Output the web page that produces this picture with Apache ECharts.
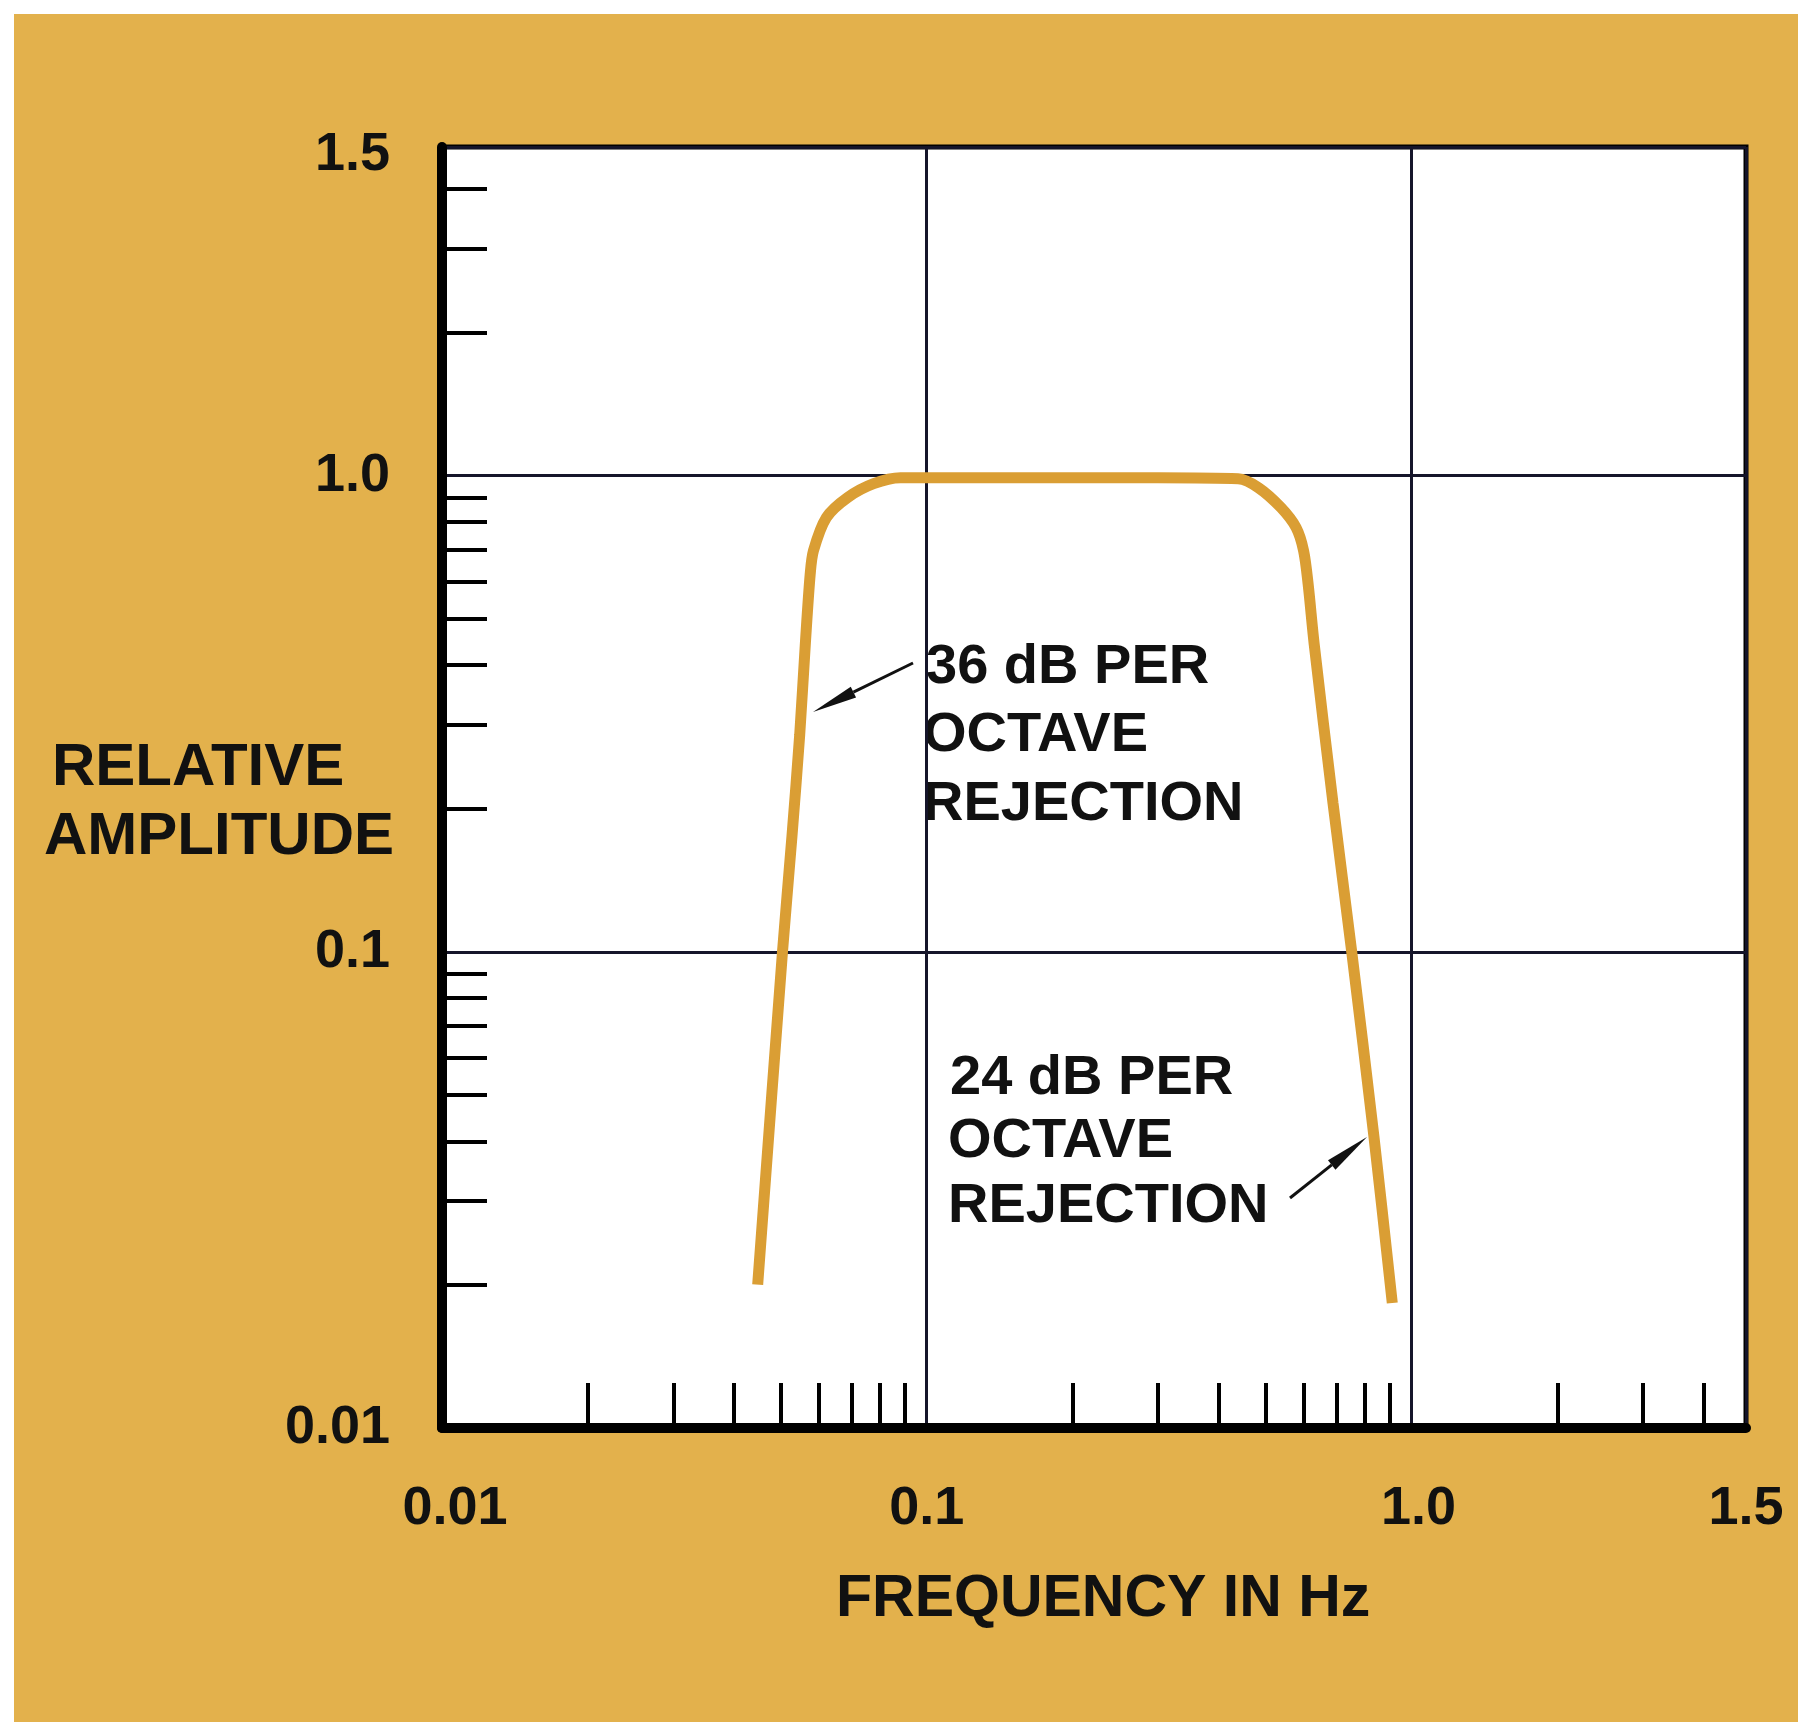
<!DOCTYPE html>
<html>
<head>
    <meta charset="utf-8" />
    <title>Relative amplitude vs frequency</title>
    <script src="https://cdn.jsdelivr.net/npm/echarts@6/dist/echarts.min.js"></script>
    <style>
        html, body { margin: 0; padding: 0; background: #fff; }
        #chart { width: 1798px; height: 1722px; }
    </style>
</head>
<body>
    <div id="chart"></div>

    <script>
        /*
        * filter response: frequency (Hz) / relative amplitude
        * */
        var freq = [0.0448, 0.0504, 0.0527, 0.0547, 0.0562, 0.0575, 0.0584, 0.0621, 0.0687, 0.0777, 0.0883,
                    0.10, 0.2, 0.3, 0.439, 0.483, 0.538, 0.578, 0.599, 0.612, 0.630,
                    0.689, 0.753, 0.837, 0.913];
        var amp = [0.020, 0.100, 0.174, 0.286, 0.446, 0.622, 0.696, 0.817, 0.90, 0.962, 0.99,
                   0.99, 0.99, 0.99, 0.985, 0.944, 0.857, 0.778, 0.696, 0.593, 0.443,
                   0.205, 0.100, 0.0408, 0.0183];

        // minor ticks (2..9 of every decade)
        var xMinorTicks = [0.02, 0.03, 0.04, 0.05, 0.06, 0.07, 0.08, 0.09,
                           0.2, 0.3, 0.4, 0.5, 0.6, 0.7, 0.8, 0.9, 2, 3, 4];
        var yMinorTicks = [0.02, 0.03, 0.04, 0.05, 0.06, 0.07, 0.08, 0.09,
                           0.2, 0.3, 0.4, 0.5, 0.6, 0.7, 0.8, 0.9, 2, 3, 4];

        // labelled ticks; the end of each axis is printed as "1.5" in the original
        var xLabelValues = [0.01, 0.1, 1, 4.9];
        var xLabelTexts = ['{r2|0.01}', '0.1', '{r1|1.0}', '1.5'];
        var yLabelValues = [0.01, 0.1, 1, 4.9];
        var yLabelTexts = ['0.01', '0.1', '1.0', '{dn|1.5}'];

        var FONT = "'Liberation Sans', Arial, sans-serif";
        var INK = '#111';

        function pickLabel(values, texts) {
            return function (v) {
                for (var i = 0; i < values.length; i++) {
                    if (Math.abs(Math.log(v / values[i])) < 0.01) return texts[i];
                }
                return '';
            };
        }

        function richStyle(pad) {
            return { fontFamily: FONT, fontWeight: 'bold', fontSize: 54, color: INK, padding: pad };
        }

        function textEl(str, x, y, size) {
            return {
                type: 'text', x: x, y: y,
                style: {
                    text: str, fill: INK,
                    font: 'bold ' + size + 'px ' + FONT,
                    align: 'left', verticalAlign: 'middle',
                    textAlign: 'left', textVerticalAlign: 'middle'
                }
            };
        }

        function arrow(x1, y1, x2, y2) {
            var dx = x2 - x1, dy = y2 - y1;
            var len = Math.sqrt(dx * dx + dy * dy);
            var ux = dx / len, uy = dy / len;
            var head = 45, half = 6;
            var bx = x2 - ux * head, by = y2 - uy * head;
            return {
                type: 'group',
                children: [
                    { type: 'line', shape: { x1: x1, y1: y1, x2: bx, y2: by }, style: { stroke: INK, lineWidth: 3 } },
                    { type: 'polygon', shape: { points: [[x2, y2], [bx - uy * half, by + ux * half], [bx + uy * half, by - ux * half]] }, style: { fill: INK } }
                ]
            };
        }

        var chart = echarts.init(document.getElementById('chart'));

        var mainAxisX = {
            type: 'log', logBase: 10, min: 0.01, max: 4.9, position: 'bottom',
            axisLine: { show: true, lineStyle: { color: '#000', width: 10 } },
            axisTick: { show: true, inside: true, length: 45, customValues: xMinorTicks, lineStyle: { color: '#000', width: 4 } },
            axisLabel: {
                show: true, margin: 54, customValues: xLabelValues,
                formatter: pickLabel(xLabelValues, xLabelTexts),
                fontFamily: FONT, fontWeight: 'bold', fontSize: 54, color: INK,
                rich: { r2: richStyle([0, 0, 0, 26]), r1: richStyle([0, 0, 0, 14]) }
            },
            splitLine: { show: false }
        };
        var mainAxisY = {
            type: 'log', logBase: 10, min: 0.01, max: 4.9, position: 'left',
            axisLine: { show: true, lineStyle: { color: '#000', width: 10 } },
            axisTick: { show: true, inside: true, length: 45, customValues: yMinorTicks, lineStyle: { color: '#000', width: 4 } },
            axisLabel: {
                show: true, margin: 52, customValues: yLabelValues,
                formatter: pickLabel(yLabelValues, yLabelTexts),
                fontFamily: FONT, fontWeight: 'bold', fontSize: 54, color: INK,
                rich: { dn: richStyle([16, 0, 0, 0]) }
            },
            splitLine: { show: false }
        };
        // second pair of axes only carries the decade grid lines
        var gridAxis = function (pos) {
            return {
                type: 'log', logBase: 10, min: 0.01, max: 4.9, position: pos,
                axisLine: { show: false }, axisTick: { show: false }, axisLabel: { show: false },
                splitLine: { show: true, lineStyle: { color: '#15152a', width: 3 } }
            };
        };

        var option = {
            backgroundColor: '#fff',
            animation: false,
            grid: {
                left: 442, right: 52, top: 147, bottom: 294,
                outerBoundsMode: 'none',
                show: true, backgroundColor: '#fff', borderColor: '#000', borderWidth: 5
            },
            xAxis: [mainAxisX, gridAxis('top')],
            yAxis: [mainAxisY, gridAxis('right')],
            series: [{
                type: 'line',
                xAxisIndex: 0, yAxisIndex: 0,
                data: freq.map(function (f, i) { return [f, amp[i]]; }),
                showSymbol: false,
                smooth: 0.3,
                lineStyle: { color: '#DA9E34', width: 11 },
                z: 5
            }],
            graphic: [
                { type: 'rect', z: -10, shape: { x: 14, y: 14, width: 1784, height: 1708 }, style: { fill: '#E3B14C' } },
                textEl('RELATIVE', 52, 768, 60),
                textEl('AMPLITUDE', 44, 837, 60),
                textEl('FREQUENCY IN Hz', 836, 1600, 59),
                textEl('36 dB PER', 926, 668, 56),
                textEl('OCTAVE', 923, 736, 56),
                textEl('REJECTION', 923, 805, 56),
                textEl('24 dB PER', 950, 1079, 56),
                textEl('OCTAVE', 948, 1142, 56),
                textEl('REJECTION', 948, 1207, 56),
                arrow(913, 663, 813, 712),
                arrow(1290, 1198, 1367, 1137)
            ]
        };

        chart.setOption(option);

        window.onresize = function () {
            chart.resize();
        };
    </script>
</body>
</html>
